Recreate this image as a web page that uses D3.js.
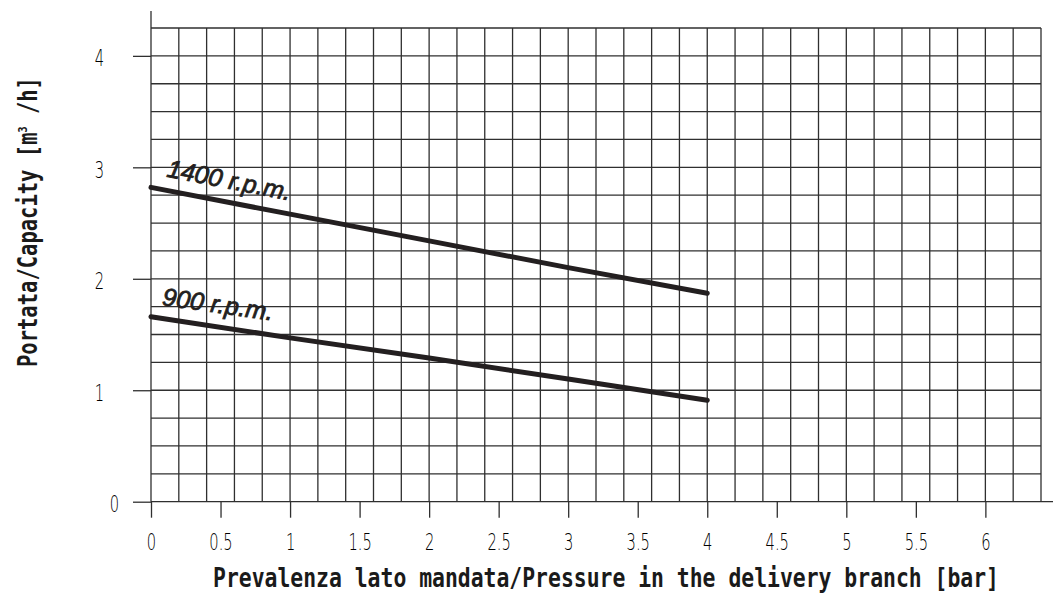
<!DOCTYPE html>
<html>
<head>
<meta charset="utf-8">
<script src="https://cdn.jsdelivr.net/npm/d3@7"></script>
<style>
  html, body { margin: 0; padding: 0; background: #fff; }
  svg { display: block; }
</style>
</head>
<body>
<svg id="chart" width="1053" height="597"></svg>
<script>
// ---- data ----
const pressure = [0, 1, 2, 3, 4];
const rpm1400 = [2.82, 2.58, 2.34, 2.10, 1.87];
const rpm900 = [1.66, 1.47, 1.29, 1.10, 0.91];
const seriesLabels = ["1400 r.p.m.", "900 r.p.m."];
const xTicks = [0, 0.5, 1, 1.5, 2, 2.5, 3, 3.5, 4, 4.5, 5, 5.5, 6];
const xTickLabels = ["0", "0.5", "1", "1.5", "2", "2.5", "3", "3.5", "4", "4.5", "5", "5.5", "6"];
const yTicks = [0, 1, 2, 3, 4];
const yTickLabels = ["0", "1", "2", "3", "4"];
const xGrid = d3.range(0, 33).map(i => i * 0.2);
const yGrid = d3.range(0, 18).map(i => i * 0.25);
const xTitle = "Prevalenza lato mandata/Pressure in the delivery branch [bar]";
const yTitleMain = "Portata/Capacity [m";
const yTitleSup = "3";
const yTitleEnd = " /h]";

// ---- layout ----
const svg = d3.select("#chart");
const x = d3.scaleLinear().domain([0, 6.4]).range([151, 1041]);
const y = d3.scaleLinear().domain([0, 4.25]).range([501.7, 28]);
const gridColor = "#2f2f2f";

// grid
const grid = svg.append("g");
grid.selectAll("line.v").data(xGrid).enter().append("line")
  .attr("x1", d => x(d)).attr("x2", d => x(d))
  .attr("y1", y(4.25)).attr("y2", y(0))
  .attr("stroke", gridColor).attr("stroke-width", 1.3);
grid.selectAll("line.h").data(yGrid).enter().append("line")
  .attr("x1", x(0)).attr("x2", d => d === 0 ? 1053 : x(6.4))
  .attr("y1", d => y(d)).attr("y2", d => y(d))
  .attr("stroke", gridColor).attr("stroke-width", 1.3);
// y axis line extension
grid.append("line")
  .attr("x1", x(0)).attr("x2", x(0)).attr("y1", 11).attr("y2", y(4.25))
  .attr("stroke", gridColor).attr("stroke-width", 1.3);

// x axis
const gx = svg.append("g").attr("transform", `translate(0,${y(0)})`)
  .call(d3.axisBottom(x).tickValues(xTicks).tickSize(16)
    .tickFormat((d, i) => xTickLabels[i]));
gx.select(".domain").remove();
gx.selectAll(".tick line").attr("stroke", gridColor).attr("stroke-width", 1.3);
gx.selectAll(".tick text")
  .attr("y", 0).attr("dy", 0)
  .attr("transform", "translate(0,48) scale(0.64,1)")
  .attr("fill", "#000")
  .style("font-family", "'DejaVu Sans', sans-serif")
  .style("font-weight", "200")
  .style("font-size", "23px");

// y axis
const gy = svg.append("g").attr("transform", `translate(${x(0)},0)`)
  .call(d3.axisLeft(y).tickValues(yTicks).tickSize(18)
    .tickFormat((d, i) => yTickLabels[i]));
gy.select(".domain").remove();
gy.selectAll(".tick line").attr("stroke", gridColor).attr("stroke-width", 1.3);
gy.selectAll(".tick text")
  .attr("x", 0).attr("dy", 0)
  .attr("transform", d => `translate(${d === 0 ? -32 : -47},10) scale(0.64,1)`)
  .attr("text-anchor", "end")
  .attr("fill", "#000")
  .style("font-family", "'DejaVu Sans', sans-serif")
  .style("font-weight", "200")
  .style("font-size", "23px");

// curves
const line = d3.line().x((d, i) => x(pressure[i])).y(d => y(d));
[rpm1400, rpm900].forEach(s => {
  svg.append("path").datum(s).attr("d", line)
    .attr("fill", "none").attr("stroke", "#231f20")
    .attr("stroke-width", 5).attr("stroke-linecap", "round");
});

// curve labels
const labelPos = [{ x: 166, y: 176.5, a: 11 }, { x: 161.5, y: 305, a: 8 }];
seriesLabels.forEach((t, i) => {
  svg.append("text")
    .attr("transform", `translate(${labelPos[i].x},${labelPos[i].y}) rotate(${labelPos[i].a})`)
    .attr("fill", "#231f20")
    .attr("stroke", "#231f20").attr("stroke-width", 0.8)
    .style("font-family", "'Liberation Sans', Arial, sans-serif")
    .style("font-style", "italic")
    .style("font-size", "25px")
    .text(t);
});

// axis titles
svg.append("text")
  .attr("transform", "translate(213,587) scale(1.02,1.3)")
  .attr("fill", "#1a1a1a")
  .style("font-family", "'DejaVu Sans Mono', monospace")
  .style("font-weight", "bold")
  .style("font-size", "21px")
  .text(xTitle);

const yt = svg.append("text")
  .attr("transform", "translate(37,367) rotate(-90) scale(1.01,1.3)")
  .attr("fill", "#1a1a1a")
  .style("font-family", "'DejaVu Sans Mono', monospace")
  .style("font-weight", "bold")
  .style("font-size", "20.3px");
yt.append("tspan").text(yTitleMain);
yt.append("tspan").attr("dy", -8).style("font-size", "10px").text(yTitleSup);
yt.append("tspan").attr("dy", 8).text(yTitleEnd);
</script>
</body>
</html>
